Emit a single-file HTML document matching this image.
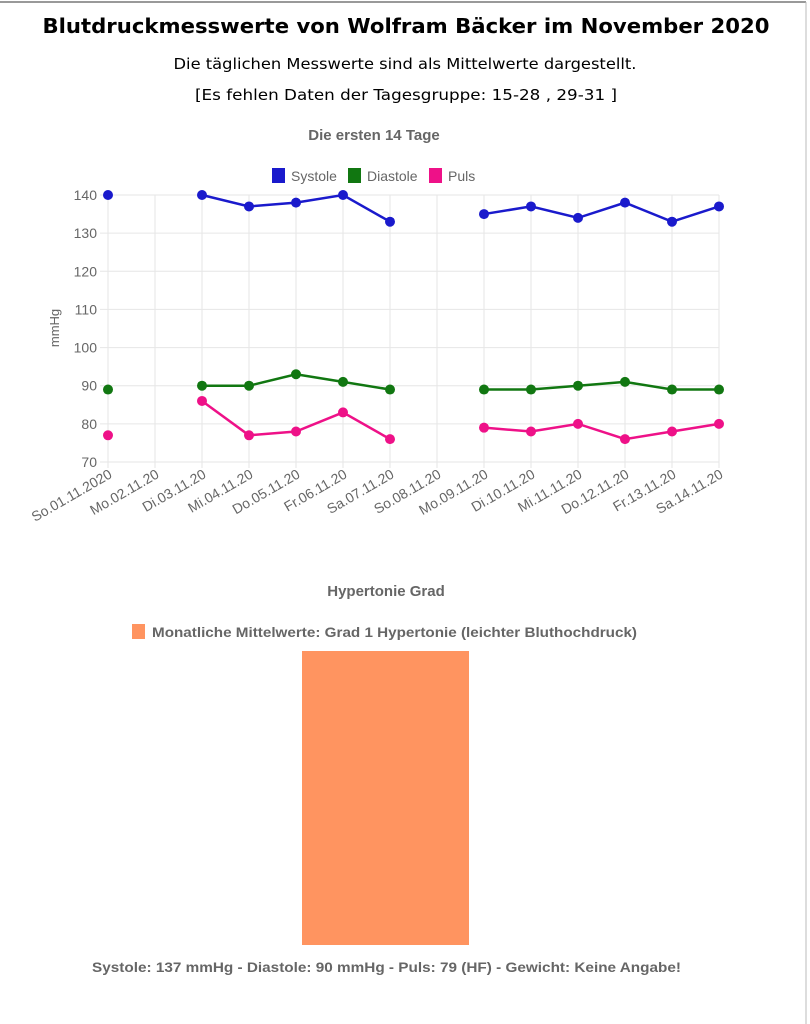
<!DOCTYPE html>
<html><head><meta charset="utf-8"><style>
html,body{margin:0;padding:0;background:#fff;width:810px;height:1024px;overflow:hidden}
svg{display:block}
text{font-family:"Liberation Sans",Arial,sans-serif}
.v{font-family:"DejaVu Sans",Verdana,sans-serif}
</style></head><body>
<svg id="root" width="810" height="1024">
<line x1="0" y1="2" x2="806" y2="2" stroke="#999" stroke-width="2"/>
<line x1="806" y1="2" x2="806" y2="1024" stroke="#bbb" stroke-width="1"/>
<text class="v" x="406" y="33" text-anchor="middle" font-size="20" font-weight="bold" fill="#000" textLength="727" lengthAdjust="spacingAndGlyphs">Blutdruckmesswerte von Wolfram Bäcker im November 2020</text>
<text class="v" x="405" y="69" text-anchor="middle" font-size="15" fill="#000" textLength="463" lengthAdjust="spacingAndGlyphs">Die täglichen Messwerte sind als Mittelwerte dargestellt.</text>
<text class="v" x="406" y="100" text-anchor="middle" font-size="15" fill="#000" textLength="422" lengthAdjust="spacingAndGlyphs">[Es fehlen Daten der Tagesgruppe: 15-28 , 29-31 ]</text>
<text x="374" y="140" text-anchor="middle" font-size="15" font-weight="bold" fill="#666">Die ersten 14 Tage</text>
<g id="legend"></g>
<g id="grid"></g>
<g id="yaxis"></g>
<g id="xaxis"></g>
<text transform="translate(59,328) rotate(-90)" text-anchor="middle" font-size="13" fill="#666">mmHg</text>
<g id="series"></g>
<text x="386" y="596" text-anchor="middle" font-size="15" font-weight="bold" fill="#666">Hypertonie Grad</text>
<rect x="132" y="624" width="13" height="15" fill="#ff9460"/>
<text x="152" y="637" font-size="14" font-weight="bold" fill="#666" textLength="485" lengthAdjust="spacingAndGlyphs">Monatliche Mittelwerte: Grad 1 Hypertonie (leichter Bluthochdruck)</text>
<g id="bars"></g>
<text x="92" y="972" font-size="14" font-weight="bold" fill="#666" textLength="589" lengthAdjust="spacingAndGlyphs">Systole: 137 mmHg - Diastole: 90 mmHg - Puls: 79 (HF) - Gewicht: Keine Angabe!</text>
</svg>
<script>
const categories=["So.01.11.2020","Mo.02.11.20","Di.03.11.20","Mi.04.11.20","Do.05.11.20","Fr.06.11.20","Sa.07.11.20","So.08.11.20","Mo.09.11.20","Di.10.11.20","Mi.11.11.20","Do.12.11.20","Fr.13.11.20","Sa.14.11.20"];
const systole=[140,null,140,137,138,140,133,null,135,137,134,138,133,137];
const diastole=[89,null,90,90,93,91,89,null,89,89,90,91,89,89];
const puls=[77,null,86,77,78,83,76,null,79,78,80,76,78,80];
const yTicks=[70,80,90,100,110,120,130,140];
const seriesNames=["Systole","Diastole","Puls"];
const barValues=[1];
const NS="http://www.w3.org/2000/svg";
function mk(tag,attrs,parent){const e=document.createElementNS(NS,tag);for(const k in attrs)e.setAttribute(k,attrs[k]);parent.appendChild(e);return e;}
const x=i=>108+i*(719-108)/(categories.length-1);
const y=v=>462-(v-70)*(462-195)/70;
const grid=document.getElementById('grid'),ya=document.getElementById('yaxis'),xa=document.getElementById('xaxis'),ser=document.getElementById('series');
yTicks.forEach(t=>{
 const l=mk('line',{x1:100,x2:719,y1:y(t),y2:y(t),stroke:'#e6e6e6'},grid);
 
 
 const tx=mk('text',{x:97,y:y(t)+5,'text-anchor':'end','font-size':14,fill:'#666'},ya);
 tx.textContent=t;
 
 
});
categories.forEach((c,i)=>{
 const l=mk('line',{x1:x(i),x2:x(i),y1:195,y2:468,stroke:'#e6e6e6'},grid);
 
 
 const tx=mk('text',{transform:`translate(${x(i)+5},${477}) rotate(-30)`,'text-anchor':'end','font-size':14,fill:'#666'},xa);
 tx.textContent=c;
 
 
});
const colors=['#1a1acc','#117711','#ee1188'];
[systole,diastole,puls].forEach((arr,s)=>{
 const g=mk('g',{},ser);
 
 
 let d='';let pen=false;
 arr.forEach((v,i)=>{if(v==null){pen=false;return;}d+=(pen?'L':'M')+x(i)+' '+y(v)+' ';pen=true;});
 const p=mk('path',{d:d,fill:'none',stroke:colors[s],'stroke-width':2.5},g);
 
 
 arr.forEach((v,i)=>{if(v==null)return;
  const c=mk('circle',{cx:x(i),cy:y(v),r:5,fill:colors[s]},g);
  
  
 });
});
const leg=document.getElementById('legend');
const lx=[272,348,429];
seriesNames.forEach((n,s)=>{
 const r=mk('rect',{x:lx[s],y:168,width:13,height:15,fill:colors[s]},leg);
 
 
 const t=mk('text',{x:lx[s]+19,y:181,'font-size':14,fill:'#666'},leg);
 t.textContent=n;
 
 
});
const bars=document.getElementById('bars');
const by=v=>945-v*(945-651);
barValues.forEach(v=>{
 const r=mk('rect',{x:302,y:by(v),width:167,height:945-by(v),fill:'#ff9460'},bars);
 
 
});
</script>
</body></html>
